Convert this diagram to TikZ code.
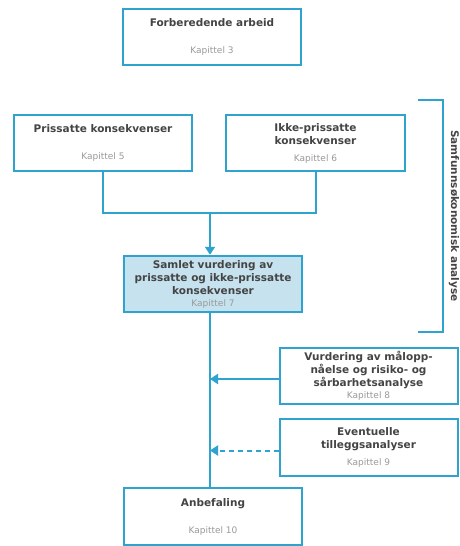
\documentclass[tikz,border=0pt]{standalone}
\usepackage{fontspec}
\setmainfont{DejaVu Sans}
\usetikzlibrary{%
		arrows.meta%
	}
\definecolor{kvblue}{HTML}{2EA3CD}
\definecolor{kvfill}{HTML}{C6E2EE}
\definecolor{kvtext}{HTML}{444444}
\definecolor{kvgray}{HTML}{9A9A9A}
\newcommand{\kap}[1]{{\fontsize{9}{11}\selectfont\mdseries\color{kvgray}#1}}

\begin{document}
\begin{tikzpicture}[x=1pt,y=-1pt,
	boks/.style={draw=kvblue, line width=2pt, fill=white, minimum width=178pt, minimum height=56.5pt, inner sep=0pt, align=center, text=kvtext, font=\fontsize{10.5}{13}\selectfont\bfseries},
	linje/.style={draw=kvblue, line width=2pt},
	pil/.style={linje, -{Triangle[width=10pt,length=8pt]}}]
			\useasboundingbox (0,0) rectangle (459,546);
			
			\node[boks] (arbeid) at (212,37) {Forberedende arbeid\\[14pt]\kap{Kapittel 3}};
			
			\node[boks] (pris) at (103,143) {Prissatte konsekvenser\\[14pt]\kap{Kapittel 5}};
			\node[boks, minimum width=179pt] (ikkepris) at (315.5,143) {Ikke-prissatte\\konsekvenser\\[4pt]\kap{Kapittel 6}};
			
			\node[boks, fill=kvfill] (samlet) at (213,284) {Samlet vurdering av\\prissatte og ikke-prissatte\\konsekvenser\\[-1pt]\kap{Kapittel 7}};
			
			\node[boks] (maal) at (368.5,376) {Vurdering av målopp-\\nåelse og risiko- og\\sårbarhetsanalyse\\[-1pt]\kap{Kapittel 8}};
			\node[boks] (tillegg) at (368.5,447.5) {Eventuelle\\tilleggsanalyser\\[4pt]\kap{Kapittel 9}};
			
			\node[boks] (anbef) at (213,516.5) {Anbefaling\\[14pt]\kap{Kapittel 10}};
			
			% felles linje ned til samlet vurdering
			\coordinate (knekk) at (210,213);
			\draw[linje] (pris.south) |- (knekk) -| (ikkepris.south);
			\draw[pil] (knekk) -- (knekk |- samlet.north);
			\draw[linje] (knekk |- samlet.south) -- (knekk |- anbef.north);
			
			\draw[pil] ([yshift=-3pt]maal.west) -- ([yshift=-3pt]maal.west -| knekk);
			\draw[pil, dash pattern=on 5pt off 4pt] ([yshift=-3pt]tillegg.west) -- ([yshift=-3pt]tillegg.west -| knekk);
		%	\draw[pil] (tillegg.west) -- (tillegg.west -| knekk);
			
			% klamme
			\coordinate (klamme-topp) at (418,100);
			\coordinate (klamme-bunn) at (418,332);
			\draw[linje] (klamme-topp) -- ++(25,0) |- (klamme-bunn);
			\node[rotate=-90, text=kvtext, font=\fontsize{10.5}{13}\selectfont\bfseries] (samfunn) at (454,216) {Samfunnsøkonomisk analyse};
		\end{tikzpicture}
\end{document}
